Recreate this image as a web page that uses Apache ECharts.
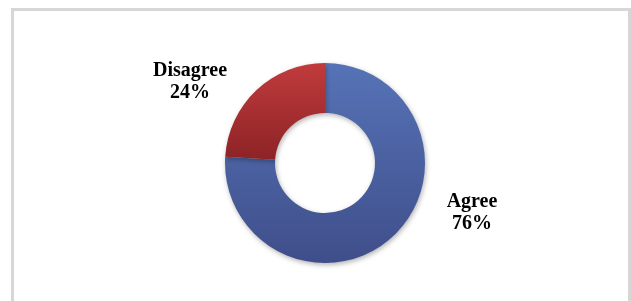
<!DOCTYPE html>
<html>
<head>
<meta charset="utf-8">
<script src="https://cdn.jsdelivr.net/npm/echarts@6/dist/echarts.min.js"></script>
<style>
html,body{margin:0;padding:0;background:#fff;}
#chart{width:631px;height:301px;}
</style>
</head>
<body>
<div id="chart"></div>
<script>
var categories = ['Agree', 'Disagree'];
var values = [76, 24];
var labelPositions = [[472, 213], [190, 82]];

var gradients = [
  ['#5673b7', '#3f4e8a'],
  ['#c13b3c', '#8c2326']
];

var chart = echarts.init(document.getElementById('chart'), null, {renderer: 'canvas'});

var data = categories.map(function (c, i) {
  return {
    name: c,
    value: values[i],
    itemStyle: {
      color: new echarts.graphic.LinearGradient(0, 0, 0, 1, [
        {offset: 0, color: gradients[i][0]},
        {offset: 1, color: gradients[i][1]}
      ])
    }
  };
});

chart.setOption({
  backgroundColor: '#ffffff',
  animation: false,
  graphic: [{
    type: 'rect',
    shape: {x: 12.5, y: 9.5, width: 617, height: 400},
    style: {fill: 'none', stroke: '#d7d7d7', lineWidth: 3},
    silent: true
  }],
  series: [{
    type: 'pie',
    center: [325, 163],
    radius: [50, 100],
    startAngle: 90,
    clockwise: true,
    avoidLabelOverlap: false,
    itemStyle: {
      shadowBlur: 5,
      shadowColor: 'rgba(0,0,0,0.3)',
      shadowOffsetX: 1,
      shadowOffsetY: 2
    },
    label: {
      show: true,
      position: 'outside',
      formatter: function (p) { return p.name + '\n' + p.value + '%'; },
      fontFamily: '"Liberation Serif", "Times New Roman", serif',
      fontWeight: 'bold',
      fontSize: 20,
      lineHeight: 22,
      color: '#000',
      align: 'center'
    },
    labelLine: {show: false},
    labelLayout: function (params) {
      var pos = labelPositions[params.dataIndex];
      return {x: pos[0], y: pos[1], align: 'center', verticalAlign: 'middle'};
    },
    emphasis: {disabled: true},
    data: data
  }]
});
</script>
</body>
</html>
